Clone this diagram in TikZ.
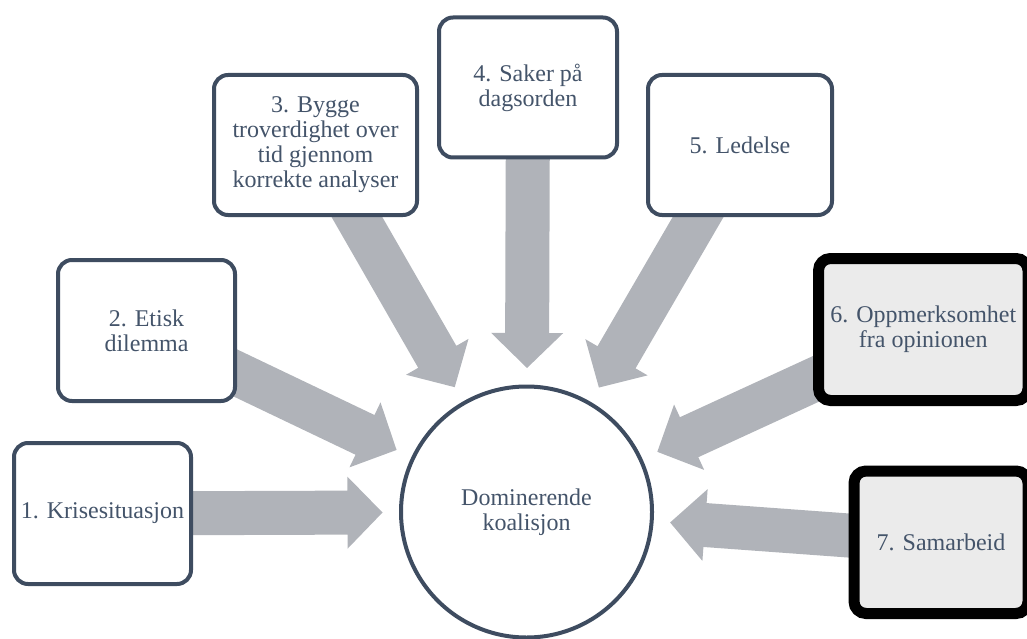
\documentclass[tikz,border=0pt]{standalone}
\usepackage{fontspec}
\setmainfont{Liberation Serif}
\usetikzlibrary{calc}
\pgfdeclarelayer{background}
\pgfsetlayers{background,main}
\definecolor{txt}{HTML}{44546A}
\definecolor{bord}{HTML}{3E4C60}
\definecolor{arr}{HTML}{B0B3B9}
\definecolor{lightfill}{HTML}{EBEBEB}
\newcommand\blkarrow[1]{%
  \path ($(hub.center)!144pt!(#1.center)$) coordinate (#1-tip)
        ($(hub.center)!179pt!(#1.center)$) coordinate (#1-hb);
  \fill[arrowfill] ($(#1-hb)!22pt!90:(#1.center)$)
    -- ($(#1.center)!22pt!-90:(hub.center)$)
    -- ($(#1.center)!22pt!90:(hub.center)$)
    -- ($(#1-hb)!22pt!-90:(#1.center)$)
    -- ($(#1-hb)!36pt!-90:(#1.center)$)
    -- (#1-tip)
    -- ($(#1-hb)!36pt!90:(#1.center)$)
    -- cycle;
}
\tikzset{
  lbl/.style={align=center, text=txt, font=\fontsize{24}{25}\selectfont},
  plainbox/.style={lbl, draw=bord, fill=white, line width=4pt, rounded corners=14pt, inner sep=0pt},
  heavybox/.style={lbl, draw=black, fill=lightfill, line width=11pt, rounded corners=12pt, inner sep=0pt},
  hubcircle/.style={lbl, circle, draw=bord, fill=white, line width=4pt, inner sep=0pt, minimum size=251pt},
  arrowfill/.style={fill=arr}
}
\begin{document}
\begin{tikzpicture}[x=1pt, y=-1pt]
\useasboundingbox (0,0) rectangle (1027,639);
\node[hubcircle] (hub) at (526.5,512) {Dominerende\\koalisjon};
\node[plainbox, minimum width=177pt, minimum height=141pt] (b1) at (102.5,513.5) {1. Krisesituasjon};
\node[plainbox, minimum width=177pt, minimum height=141pt] (b2) at (146.5,330.5) {2. Etisk\\dilemma};
\node[plainbox, minimum width=203pt, minimum height=140pt] (b3) at (315.5,145) {3. Bygge\\troverdighet over\\tid gjennom\\korrekte analyser};
\node[plainbox, minimum width=178pt, minimum height=140pt] (b4) at (528,87.5) {4. Saker på\\dagsorden};
\node[plainbox, minimum width=184pt, minimum height=140pt] (b5) at (740,145) {5. Ledelse};
\node[heavybox, minimum width=209.5pt, minimum height=142pt] (b6) at (923.25,329.5) {6. Oppmerksomhet\\fra opinionen};
\node[heavybox, minimum width=174pt, minimum height=142.5pt] (b7) at (941,542.25) {7. Samarbeid};
\begin{pgfonlayer}{background}
\blkarrow{b1}
\blkarrow{b2}
\blkarrow{b3}
\blkarrow{b4}
\blkarrow{b5}
\blkarrow{b6}
\blkarrow{b7}
\end{pgfonlayer}
\end{tikzpicture}
\end{document}
